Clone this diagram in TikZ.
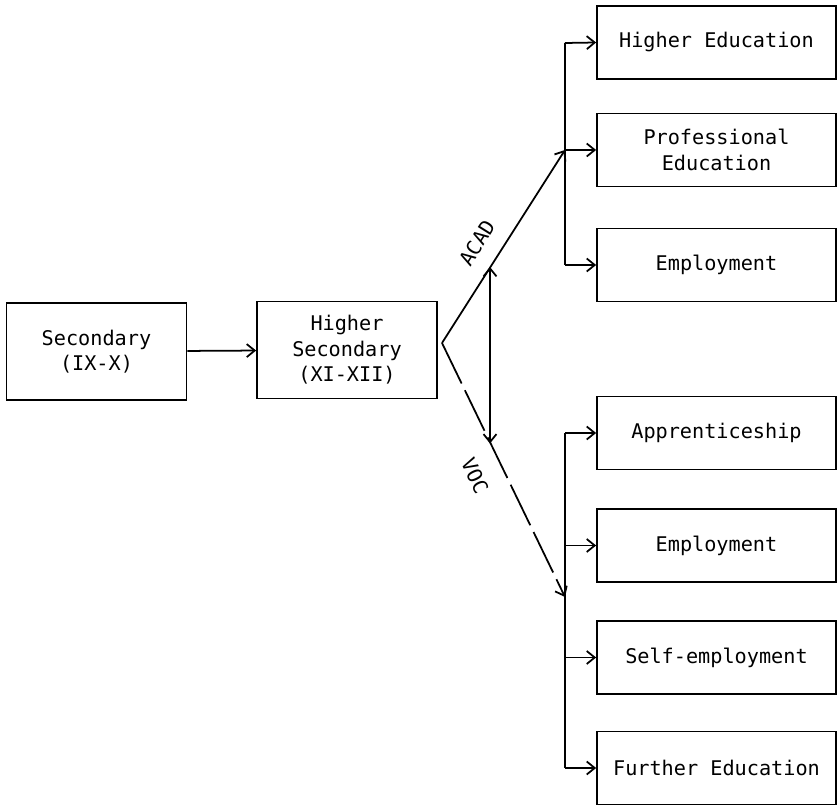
\documentclass[tikz,border=0pt]{standalone}
\usepackage{fontspec}
\setmainfont{DejaVu Sans Mono}
\usetikzlibrary{arrows.meta,positioning}

\begin{document}
\begin{tikzpicture}[
  bstage/.style={draw,line width=1pt,minimum width=3.6cm,minimum height=1.94cm,
                 align=center,font=\fontsize{11.5}{14.5}\selectfont},
  bout/.style={draw,line width=1pt,minimum width=4.78cm,minimum height=1.46cm,
               align=center,font=\fontsize{11.5}{14.5}\selectfont},
  arr/.style={-{Straight Barb[length=1.6mm,width=2.6mm]},line width=1pt},
  bus/.style={line width=1pt},
  lbl/.style={font=\fontsize{11.5}{14}\selectfont,inner sep=1pt}]
\useasboundingbox (0,0) rectangle (16.76,-16.12);
% stages
\node[bstage] (sec)  at (1.93,-7.03) {Secondary\\(IX-X)};
\node[bstage] (hsec) at (6.94,-7.0)  {Higher\\Secondary\\(XI-XII)};
% academic outcomes
\node[bout] (hedu)  at (14.33,-0.85)  {Higher Education};
\node[bout] (pedu)  at (14.33,-3.0)   {Professional\\Education};
\node[bout] (emp1)  at (14.33,-5.3)   {Employment};
% vocational outcomes
\node[bout] (appr)  at (14.33,-8.66)  {Apprenticeship};
\node[bout] (emp2)  at (14.33,-10.91) {Employment};
\node[bout] (self)  at (14.33,-13.15) {Self-employment};
\node[bout] (fedu)  at (14.33,-15.36) {Further Education};
% stream labels
\node[lbl,rotate=57.8]  (acad) at (9.54,-4.86) {ACAD};
\node[lbl,rotate=-64.5] (voc)  at (9.5,-9.52)  {VOC};
% junctions
\coordinate (fork)  at (8.84,-6.86);
\coordinate (acadj) at (11.3,-3.0);
\coordinate (vocj)  at (11.3,-11.94);
\coordinate (up)    at (9.8,-5.34);
\coordinate (dn)    at (9.8,-8.87);
\draw[arr] (sec)--(hsec);
\draw[arr] (fork)--(acadj);
\draw[arr,dash pattern=on 0.9cm off 0.15cm] (fork)--(vocj);
\draw[arr,{Straight Barb[length=1.6mm,width=2.6mm]}-{Straight Barb[length=1.6mm,width=2.6mm]}] (dn)--(up);
% buses
\draw[bus] (11.3,-0.86)--(11.3,-5.3);
\draw[bus] (11.3,-8.66)--(11.3,-15.36);
\draw[arr] (11.3,-0.86)--(hedu.west);
\draw[arr] (acadj)--(pedu.west);
\draw[arr] (11.3,-5.3)--(emp1.west);
\draw[arr] (11.3,-8.66)--(appr.west);
\draw[arr] (11.3,-10.91)--(emp2.west);
\draw[arr] (11.3,-13.15)--(self.west);
\draw[arr] (11.3,-15.36)--(fedu.west);
\end{tikzpicture}
\end{document}
